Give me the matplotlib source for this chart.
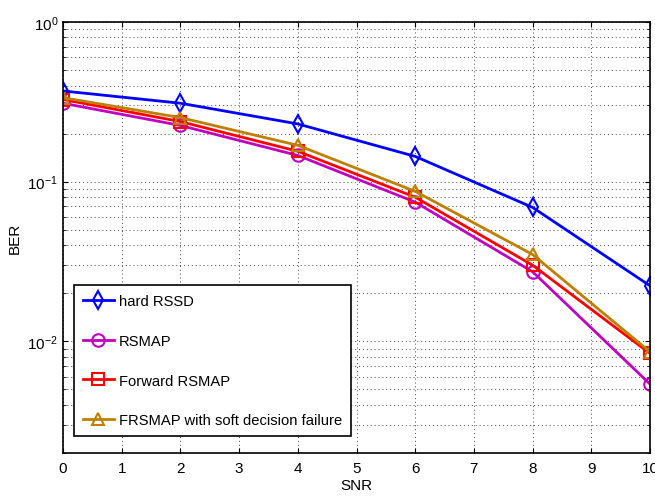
import matplotlib
matplotlib.use('Agg')
import matplotlib.pyplot as plt
import numpy as np

plt.rcParams['font.family'] = ['Liberation Sans', 'DejaVu Sans']

snr = [0, 2, 4, 6, 8, 10]
hard_rssd = [0.37, 0.31, 0.23, 0.144, 0.069, 0.0223]
rsmap = [0.31, 0.225, 0.146, 0.0745, 0.0273, 0.0054]
fwd_rsmap = [0.327, 0.238, 0.155, 0.080, 0.030, 0.0084]
frsmap_soft = [0.336, 0.252, 0.169, 0.087, 0.035, 0.0086]

labels = ['hard RSSD', 'RSMAP', 'Forward RSMAP', 'FRSMAP with soft decision failure']
colors = ['#0000ff', '#bf00bf', '#ff0000', '#bf7f00']
markers = ['d', 'o', 's', '^']

fig = plt.figure(figsize=(6.55, 5.02), dpi=100)
ax = fig.add_axes([63/655, 48/502, 587/655, 431/502])

series = [hard_rssd, rsmap, fwd_rsmap, frsmap_soft]
for ys, lab, c, m in zip(series, labels, colors, markers):
    ax.semilogy(snr, ys, color=c, marker=m, label=lab, linewidth=2,
                markersize=9, markerfacecolor='none', markeredgewidth=1.5)

ax.set_xlim(0, 10)
ax.set_ylim(0.002, 1)
ax.set_xticks(range(11))
ax.grid(True, which='major', linestyle=(0, (1, 3)), color='#444444', linewidth=0.7)
ax.grid(True, which='minor', axis='y', linestyle=(0, (1, 3)), color='#444444', linewidth=0.7)
ax.tick_params(which='both', direction='in', top=True, right=True, labelsize=11)
ax.tick_params(axis='x', pad=6)
for sp in ax.spines.values():
    sp.set_linewidth(1.2)
ax.set_xlabel('SNR', fontsize=11, labelpad=2)
ax.set_ylabel('BER', fontsize=11, labelpad=4)

leg = ax.legend(loc='lower left', bbox_to_anchor=(0.019, 0.039), borderaxespad=0,
                fontsize=10.6, fancybox=False, edgecolor='black', framealpha=1,
                labelspacing=1.75, handlelength=2.1, handletextpad=0.35,
                borderpad=0.6)
leg.get_frame().set_linewidth(1.2)

fig.savefig('out.png', dpi=100)
